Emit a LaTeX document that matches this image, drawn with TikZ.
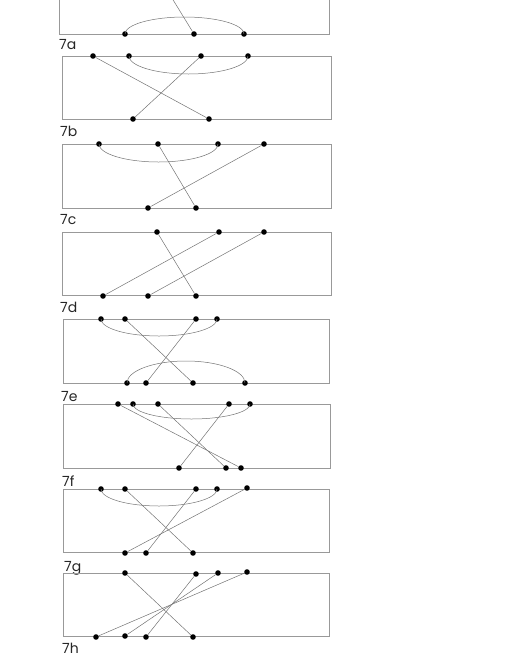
\documentclass[tikz,border=0pt]{standalone}
\usepackage{fontspec}
\setmainfont{Poppins}
\begin{document}
\begin{tikzpicture}[x=1pt,y=-1pt,
  frame/.style={draw=black!40,line width=0.6pt},
  wire/.style={draw=black!55,line width=0.5pt},
  dot/.style={circle,fill=black,inner sep=0pt,minimum size=5.6pt},
  lab/.style={anchor=base west,inner sep=0pt,text=black!85,font=\fontsize{14}{14}\selectfont}]
\useasboundingbox (0,0) rectangle (518,670);
\clip (0,0) rectangle (518,670);
% ---- 7a (cut off at top)
\draw[frame] (59,-10) rectangle (329,34);
\node[dot] (a1) at (125,34) {};
\node[dot] (a2) at (194,34) {};
\node[dot] (a3) at (244,34) {};
\coordinate (a0) at (167,-10);
\draw[wire] (a2) -- (a0);
\draw[wire] (a1.center) arc[start angle=180,end angle=360,x radius=59.5,y radius=17];
\node[lab] (la) at (59,49) {7a};
% ---- 7b
\draw[frame] (62,56) rectangle (331,119);
\node[dot] (b1) at (93,56) {};
\node[dot] (b2) at (129,56) {};
\node[dot] (b3) at (201,56) {};
\node[dot] (b4) at (248,56) {};
\node[dot] (b5) at (133,119) {};
\node[dot] (b6) at (209,119) {};
\draw[wire] (b1) -- (b6);
\draw[wire] (b3) -- (b5);
\draw[wire] (b2.center) arc[start angle=180,end angle=0,x radius=59.5,y radius=18];
\node[lab] (lb) at (60,136) {7b};
% ---- 7c
\draw[frame] (62,144) rectangle (331,208);
\node[dot] (c1) at (99,144) {};
\node[dot] (c2) at (158,144) {};
\node[dot] (c3) at (218,144) {};
\node[dot] (c4) at (264,144) {};
\node[dot] (c5) at (148,208) {};
\node[dot] (c6) at (196,208) {};
\draw[wire] (c2) -- (c6);
\draw[wire] (c4) -- (c5);
\draw[wire] (c1.center) arc[start angle=180,end angle=0,x radius=59.5,y radius=18];
\node[lab] (lc) at (60,224) {7c};
% ---- 7d
\draw[frame] (62,232) rectangle (331,295);
\node[dot] (d1) at (157,232) {};
\node[dot] (d2) at (219,232) {};
\node[dot] (d3) at (264,232) {};
\node[dot] (d4) at (103,296) {};
\node[dot] (d5) at (148,296) {};
\node[dot] (d6) at (196,296) {};
\draw[wire] (d1) -- (d6);
\draw[wire] (d2) -- (d4);
\draw[wire] (d3) -- (d5);
\node[lab] (ld) at (60,312) {7d};
% ---- 7e
\draw[frame] (63,319) rectangle (329,383);
\node[dot] (e1) at (101,319) {};
\node[dot] (e2) at (125,319) {};
\node[dot] (e3) at (196,319) {};
\node[dot] (e4) at (217,319) {};
\node[dot] (e5) at (127,383) {};
\node[dot] (e6) at (146,383) {};
\node[dot] (e7) at (193,383) {};
\node[dot] (e8) at (245,383) {};
\draw[wire] (e2) -- (e7);
\draw[wire] (e3) -- (e6);
\draw[wire] (e1.center) arc[start angle=180,end angle=0,x radius=58,y radius=17];
\draw[wire] (e5.center) arc[start angle=180,end angle=360,x radius=59,y radius=22];
\node[lab] (le) at (61,401) {7e};
% ---- 7f
\draw[frame] (63,404) rectangle (330,468);
\node[dot] (f1) at (118,404) {};
\node[dot] (f2) at (133,404) {};
\node[dot] (f3) at (158,404) {};
\node[dot] (f4) at (229,404) {};
\node[dot] (f5) at (250,404) {};
\node[dot] (f6) at (179,468) {};
\node[dot] (f7) at (226,468) {};
\node[dot] (f8) at (241,468) {};
\draw[wire] (f1) -- (f8);
\draw[wire] (f3) -- (f7);
\draw[wire] (f4) -- (f6);
\draw[wire] (f2.center) arc[start angle=180,end angle=0,x radius=58.5,y radius=15];
\node[lab] (lf) at (62,486) {7f};
% ---- 7g
\draw[frame] (63,489) rectangle (329,552);
\node[dot] (g1) at (101,489) {};
\node[dot] (g2) at (125,489) {};
\node[dot] (g3) at (196,489) {};
\node[dot] (g4) at (217,489) {};
\node[dot] (g5) at (247,488) {};
\node[dot] (g6) at (125,553) {};
\node[dot] (g7) at (146,553) {};
\node[dot] (g8) at (193,553) {};
\draw[wire] (g2) -- (g8);
\draw[wire] (g3) -- (g7);
\draw[wire] (g5) -- (g6);
\draw[wire] (g1.center) arc[start angle=180,end angle=0,x radius=58,y radius=17];
\node[lab] (lg) at (64,571) {7g};
% ---- 7h
\draw[frame] (63,573) rectangle (329,636);
\node[dot] (h1) at (125,573) {};
\node[dot] (h2) at (196,574) {};
\node[dot] (h3) at (218,573) {};
\node[dot] (h4) at (247,572) {};
\node[dot] (h5) at (96,637) {};
\node[dot] (h6) at (125,636) {};
\node[dot] (h7) at (146,637) {};
\node[dot] (h8) at (193,637) {};
\draw[wire] (h1) -- (h8);
\draw[wire] (h2) -- (h7);
\draw[wire] (h3) -- (h6);
\draw[wire] (h4) -- (h5);
\node[lab] (lh) at (62,653) {7h};
\end{tikzpicture}
\end{document}
